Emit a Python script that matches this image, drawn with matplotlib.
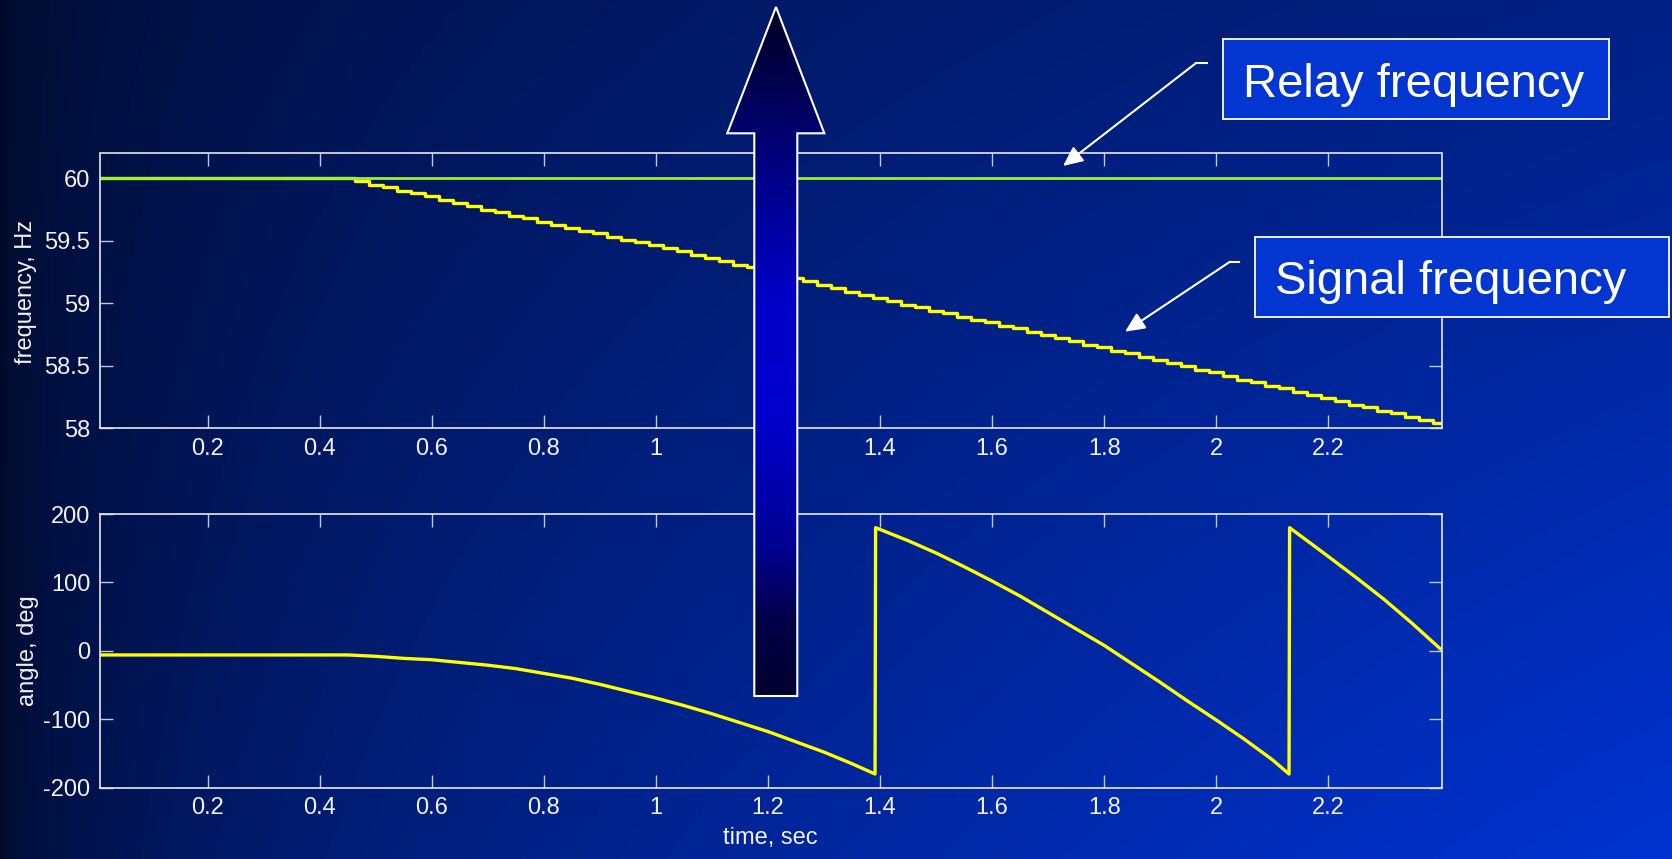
import numpy as np
import matplotlib.pyplot as plt
from matplotlib.colors import LinearSegmentedColormap
from matplotlib.patches import Polygon, Rectangle, FancyArrowPatch

W, H = 1672, 859

# signal frequency (Hz) (staircase updates)
freq_t = [0.0083, 0.450, 0.475, 0.500, 0.525, 0.550, 0.575, 0.600, 0.625,
          0.650, 0.675, 0.700, 0.725, 0.750, 0.775, 0.800, 0.825, 0.850,
          0.875, 0.900, 0.925, 0.950, 0.975, 1.000, 1.025, 1.050, 1.075,
          1.100, 1.125, 1.150, 1.175, 1.200, 1.225, 1.250, 1.275, 1.300,
          1.325, 1.350, 1.375, 1.400, 1.425, 1.450, 1.475, 1.500, 1.525,
          1.550, 1.575, 1.600, 1.625, 1.650, 1.675, 1.700, 1.725, 1.750,
          1.775, 1.800, 1.825, 1.850, 1.875, 1.900, 1.925, 1.950, 1.975,
          2.000, 2.025, 2.050, 2.075, 2.100, 2.125, 2.150, 2.175, 2.200,
          2.225, 2.250, 2.275, 2.300, 2.325, 2.350, 2.375, 2.400]
freq_hz = [60.00, 60.00, 59.98, 59.95, 59.93, 59.90, 59.88, 59.86, 59.83,
           59.80, 59.78, 59.75, 59.73, 59.70, 59.68, 59.65, 59.63, 59.60,
           59.58, 59.56, 59.53, 59.51, 59.49, 59.47, 59.44, 59.42, 59.39,
           59.36, 59.34, 59.31, 59.29, 59.26, 59.23, 59.20, 59.18, 59.15,
           59.12, 59.09, 59.07, 59.04, 59.02, 58.99, 58.97, 58.94, 58.92,
           58.89, 58.87, 58.85, 58.82, 58.80, 58.77, 58.75, 58.72, 58.70,
           58.67, 58.65, 58.62, 58.60, 58.57, 58.55, 58.52, 58.50, 58.47,
           58.45, 58.42, 58.39, 58.37, 58.34, 58.32, 58.29, 58.27, 58.24,
           58.22, 58.19, 58.17, 58.14, 58.12, 58.09, 58.07, 58.045]

# relay frequency stays at 60 Hz
relay_t = [0.0083, 2.4025]
relay_hz = [60.0, 60.0]

# angle between signal and relay (deg), wraps at +/-180
angle_t = [0.0083, 0.45, 0.50, 0.55, 0.60, 0.65, 0.70, 0.75, 0.80, 0.85, 0.90,
           0.95, 1.00, 1.05, 1.10, 1.15, 1.20, 1.25, 1.30, 1.35, 1.391, 1.392,
           1.45, 1.50, 1.55, 1.60, 1.65, 1.70, 1.75, 1.80, 1.85, 1.90, 1.95,
           2.00, 2.05, 2.10, 2.130, 2.131, 2.20, 2.25, 2.30, 2.35, 2.40]
angle_deg = [-6, -6, -8, -11, -13, -17, -21, -26, -33, -40, -49, -59, -69, -80,
             -92, -105, -118, -133, -148, -165, -180, 180, 161, 143, 123, 102,
             80, 56, 32, 8, -19, -46, -74, -101, -129, -159, -180, 180, 138,
             107, 75, 40, 3]

x_ticks = [0.2, 0.4, 0.6, 0.8, 1.0, 1.2, 1.4, 1.6, 1.8, 2.0, 2.2]
x_labels = ['0.2', '0.4', '0.6', '0.8', '1', '1.2', '1.4', '1.6', '1.8', '2', '2.2']
f_ticks = [58, 58.5, 59, 59.5, 60]
f_labels = ['58', '58.5', '59', '59.5', '60']
a_ticks = [-200, -100, 0, 100, 200]
a_labels = ['-200', '-100', '0', '100', '200']

plt.rcParams['font.family'] = ['Liberation Sans', 'DejaVu Sans']
plt.rcParams['axes.unicode_minus'] = False

fig = plt.figure(figsize=(W / 100, H / 100), dpi=100)

# slide background: dark navy on the left to bright blue lower right
bg = fig.add_axes([0, 0, 1, 1], zorder=0)
u = np.linspace(0, 1, 400)[None, :]
v = np.linspace(0, 1, 200)[:, None]
k = np.sqrt(u) * (0.55 + 0.45 * v)
bg.imshow(np.dstack([np.zeros_like(k), 0.04 + 0.16 * k, 0.16 + 0.66 * k]),
          aspect='auto')
bg.axis('off')


def style(ax):
    ax.set_facecolor('none')
    ax.set_xlim(0.0075, 2.4025)
    ax.set_xticks(x_ticks)
    ax.set_xticklabels(x_labels)
    ax.tick_params(direction='in', length=9.5, width=1.0, color='#c0c8e0',
                   top=True, right=True, labelsize=17, labelcolor='#f2f2f2',
                   pad=7)
    for s in ax.spines.values():
        s.set_color('#e8e8e8')
        s.set_linewidth(1.2)


ax1 = fig.add_axes([100 / W, 1 - 428.3 / H, 1341.7 / W, 274.8 / H], zorder=1)
style(ax1)
ax1.step(freq_t, freq_hz, where='mid', color='#ffff00', lw=2.4)
ax1.plot(relay_t, relay_hz, color='#96f03c', lw=2.0)
ax1.set_ylim(58, 60.2)
ax1.set_yticks(f_ticks)
ax1.set_yticklabels(f_labels)

ax2 = fig.add_axes([100 / W, 1 - 787.7 / H, 1341.7 / W, 273.7 / H], zorder=1)
style(ax2)
ax2.plot(angle_t, angle_deg, color='#ffff00', lw=2.4)
ax2.set_ylim(-200, 200)
ax2.set_yticks(a_ticks)
ax2.set_yticklabels(a_labels)

fig.text(26 / W, 1 - 291.5 / H, 'frequency, Hz', rotation=90, ha='center',
         va='center', fontsize=17, color='#f2f2f2')
fig.text(28 / W, 1 - 651 / H, 'angle, deg', rotation=90, ha='center',
         va='center', fontsize=17, color='#f2f2f2')
fig.text(770 / W, 1 - 838 / H, 'time, sec', ha='center', va='center',
         fontsize=17, color='#f2f2f2')

# overlay in pixel coordinates for the slide callouts
ov = fig.add_axes([0, 0, 1, 1], zorder=5)
ov.set_facecolor('none')

arrow_cmap = LinearSegmentedColormap.from_list('arrow', [
    (0.0, '#000020'), (0.183, '#000070'), (0.425, '#0000c8'),
    (0.6, '#0000cc'), (0.788, '#000090'), (0.89, '#000048'), (1.0, '#000030')])
arrow_xy = [(776, 7), (824.3, 133.3), (797.3, 133.3), (797.3, 696),
            (754.3, 696), (754.3, 133.3), (727.3, 133.3)]
arrow = Polygon(arrow_xy, closed=True, facecolor='none', edgecolor='white',
                lw=1.5, zorder=3)
ov.add_patch(arrow)
im = ov.imshow(np.linspace(0, 1, 256)[:, None], cmap=arrow_cmap,
               extent=(727, 825, 696, 7), aspect='auto', zorder=2)
im.set_clip_path(arrow)

boxes = [((1223.3, 39.3), 385.7, 80.0), ((1255.0, 237.3), 414.0, 79.4)]
for (x0, y0), bw, bh in boxes:
    ov.add_patch(Rectangle((x0, y0), bw, bh, facecolor='#0335d0',
                           edgecolor='white', lw=1.3, zorder=4))
ov.text(1413.5, 96.7, 'Relay frequency', ha='center', va='baseline',
        fontsize=34, color='white', zorder=5)
ov.text(1450.3, 294.0, 'Signal frequency', ha='center', va='baseline',
        fontsize=34, color='white', zorder=5)

leaders = [((1207.3, 63.3), (1195.7, 63.3), (1063.0, 166.0)),
           ((1239.3, 261.7), (1230.0, 261.7), (1125.0, 331.7))]
for p0, p1, tip in leaders:
    ov.plot([p0[0], p1[0]], [p0[1], p1[1]], color='white', lw=1.5, zorder=4)
    ov.add_patch(FancyArrowPatch(p1, tip, arrowstyle='-|>,head_length=12,head_width=5.5',
                                 mutation_scale=1, shrinkA=0, shrinkB=0,
                                 color='white', lw=1.5, zorder=4))

ov.set_xlim(0, W)
ov.set_ylim(H, 0)
ov.axis('off')

fig.savefig('out.png', dpi=100)
